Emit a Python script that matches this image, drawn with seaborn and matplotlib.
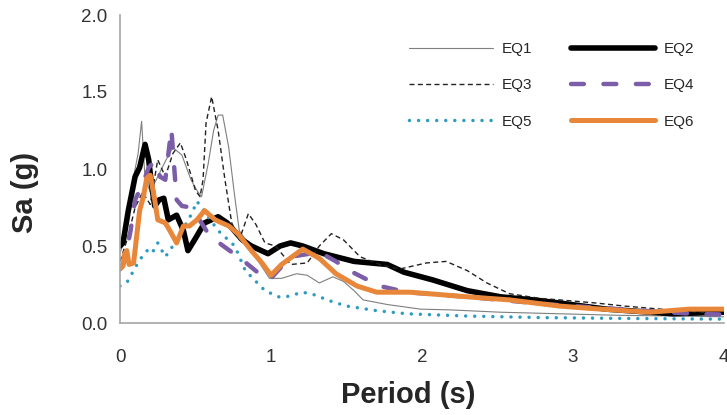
import numpy as np
import pandas as pd
import matplotlib
matplotlib.use("Agg")
import matplotlib.pyplot as plt
import seaborn as sns

# ==========================================================
# DADOS
# ==========================================================

t_eq1 = [0.0, 0.03, 0.06, 0.09, 0.12, 0.143, 0.165, 0.2, 0.25, 0.3, 0.35, 0.41, 0.47,
         0.51, 0.54, 0.585, 0.62, 0.65, 0.68, 0.72, 0.76, 0.79, 0.86, 0.93, 0.99, 1.07,
         1.17, 1.24, 1.32, 1.41, 1.48, 1.55, 1.61, 1.77, 1.99, 2.19, 2.52, 2.91, 3.3, 3.7, 4.0]
sa_eq1 = [0.45, 0.55, 0.75, 0.95, 1.1, 1.31, 0.95, 0.85, 0.95, 1.05, 1.14, 1.09, 0.93,
          0.86, 0.82, 1.04, 1.25, 1.35, 1.35, 1.14, 0.82, 0.6, 0.5, 0.38, 0.29, 0.29,
          0.32, 0.31, 0.26, 0.3, 0.27, 0.21, 0.15, 0.12, 0.09, 0.085, 0.07, 0.06, 0.05, 0.045, 0.04]

t_eq2 = [0.0, 0.02, 0.055, 0.1, 0.13, 0.166, 0.19, 0.21, 0.23, 0.26, 0.29, 0.32, 0.375,
         0.42, 0.45, 0.5, 0.56, 0.65, 0.71, 0.81, 0.87, 0.98, 1.06, 1.13, 1.21, 1.35,
         1.55, 1.77, 1.88, 2.07, 2.3, 2.52, 2.74, 2.91, 3.22, 3.66, 4.0]
sa_eq2 = [0.5, 0.52, 0.73, 0.95, 1.01, 1.16, 1.06, 0.89, 0.76, 0.8, 0.81, 0.67, 0.7,
          0.6, 0.47, 0.55, 0.65, 0.69, 0.65, 0.54, 0.5, 0.45, 0.5, 0.52, 0.5, 0.45,
          0.4, 0.38, 0.33, 0.28, 0.21, 0.17, 0.15, 0.13, 0.09, 0.06, 0.07]

t_eq3 = [0.0, 0.05, 0.1, 0.15, 0.2, 0.25, 0.3, 0.35, 0.4, 0.44, 0.5, 0.53, 0.55, 0.57,
         0.607, 0.65, 0.695, 0.74, 0.79, 0.85, 0.9, 0.96, 1.03, 1.13, 1.24, 1.32, 1.4,
         1.48, 1.59, 1.72, 1.85, 2.03, 2.16, 2.3, 2.43, 2.58, 2.78, 2.91, 3.15, 3.34, 3.7, 4.0]
sa_eq3 = [0.4, 0.55, 0.75, 0.85, 0.77, 1.06, 0.95, 1.1, 1.17, 1.06, 0.86, 0.82, 0.93, 1.3,
          1.47, 1.25, 0.93, 0.65, 0.54, 0.71, 0.64, 0.52, 0.5, 0.38, 0.39, 0.5, 0.58,
          0.54, 0.43, 0.38, 0.35, 0.39, 0.4, 0.34, 0.26, 0.19, 0.16, 0.15, 0.13, 0.11, 0.08, 0.06]

t_eq4 = [0.0, 0.03, 0.07, 0.1, 0.15, 0.19, 0.23, 0.265, 0.3, 0.34, 0.375, 0.41, 0.47,
         0.5, 0.585, 0.67, 0.81, 0.96, 0.99, 1.13, 1.32, 1.43, 1.52, 1.72, 1.9, 2.3,
         2.85, 3.3, 3.79, 4.0]
sa_eq4 = [0.35, 0.4, 0.6, 0.8, 0.9, 1.01, 1.05, 0.95, 0.93, 1.26, 0.8, 0.76, 0.75,
          0.71, 0.58, 0.51, 0.41, 0.29, 0.28, 0.43, 0.46, 0.4, 0.34, 0.24, 0.2, 0.17,
          0.12, 0.09, 0.06, 0.055]

t_eq5 = [0.0, 0.05, 0.09, 0.13, 0.18, 0.21, 0.25, 0.3, 0.33, 0.4, 0.475, 0.51, 0.65,
         0.76, 0.83, 0.89, 0.96, 1.05, 1.1, 1.21, 1.3, 1.37, 1.5, 1.7, 1.9, 2.3, 2.8, 3.3, 4.0]
sa_eq5 = [0.24, 0.27, 0.34, 0.41, 0.47, 0.45, 0.52, 0.43, 0.47, 0.58, 0.71, 0.79, 0.6,
          0.5, 0.34, 0.28, 0.21, 0.17, 0.17, 0.2, 0.18, 0.15, 0.11, 0.08, 0.06, 0.045,
          0.035, 0.03, 0.025]

t_eq6 = [0.0, 0.02, 0.03, 0.045, 0.06, 0.09, 0.13, 0.155, 0.177, 0.2, 0.23, 0.25, 0.3,
         0.33, 0.375, 0.42, 0.46, 0.51, 0.56, 0.63, 0.72, 0.78, 0.87, 0.94, 1.0, 1.07,
         1.21, 1.32, 1.43, 1.57, 1.7, 1.92, 2.3, 2.58, 2.91, 3.11, 3.51, 3.77, 4.0]
sa_eq6 = [0.35, 0.37, 0.45, 0.47, 0.38, 0.39, 0.73, 0.82, 0.94, 0.96, 0.8, 0.67, 0.65,
          0.6, 0.52, 0.63, 0.63, 0.67, 0.73, 0.67, 0.63, 0.58, 0.47, 0.39, 0.31, 0.38,
          0.48, 0.42, 0.32, 0.24, 0.2, 0.2, 0.17, 0.15, 0.11, 0.095, 0.07, 0.09, 0.09]

x_ticks = [0, 1, 2, 3, 4]
y_ticks = [0.0, 0.5, 1.0, 1.5, 2.0]

# ==========================================================
# ESTILOS
# ==========================================================

series = [
    ("EQ1", t_eq1, sa_eq1, dict(color="#7f7f7f", lw=0.8, linestyle="-")),
    ("EQ2", t_eq2, sa_eq2, dict(color="black", lw=4.0, linestyle="-", solid_joinstyle="round")),
    ("EQ3", t_eq3, sa_eq3, dict(color="#222222", lw=1.0, linestyle=(0, (3.6, 2.4)))),
    ("EQ4", t_eq4, sa_eq4, dict(color="#7b5ea7", lw=3.2, linestyle=(0, (2.9, 4.4)),
                                dash_capstyle="round")),
    ("EQ5", t_eq5, sa_eq5, dict(color="#2e9cc0", lw=2.5, linestyle=(0, (0.01, 2.6)),
                                dash_capstyle="round")),
    ("EQ6", t_eq6, sa_eq6, dict(color="#e8873a", lw=3.6, linestyle="-", solid_joinstyle="round")),
]

sns.set_style("white")
plt.rcParams["font.family"] = ["Liberation Sans", "DejaVu Sans"]

fig = plt.figure(figsize=(7.27, 4.15), dpi=100)
ax = fig.add_axes([120 / 727, 1 - 323 / 415, 604 / 727, 308 / 415])

lines = {}
for nome, t, sa, estilo in series:
    df = pd.DataFrame({"Period": t, "Sa": sa})
    sns.lineplot(data=df, x="Period", y="Sa", ax=ax, label=nome, legend=False, **estilo)
    lines[nome] = ax.get_lines()[-1]

ax.set_xlim(0, 4)
ax.set_ylim(0, 2.0)
ax.set_xticks(x_ticks)
ax.set_xticklabels([str(v) for v in x_ticks])
ax.set_yticks(y_ticks)
ax.set_yticklabels([f"{v:.1f}" for v in y_ticks])

sns.despine(ax=ax)
for lado in ["left", "bottom"]:
    ax.spines[lado].set_color("#a6a6a6")
    ax.spines[lado].set_linewidth(1.2)

ax.tick_params(axis="both", direction="out", length=5, width=1, color="#a6a6a6",
               labelsize=13.5, labelcolor="#333333", pad=4)
ax.tick_params(axis="x", pad=14)

# rotulos dos eixos (posicao como no Excel)
ax.set_xlabel("Period (s)", fontsize=21, fontweight="bold", va="center")
ax.xaxis.set_label_coords((408 - 120) / 604, (323 - 395) / 308)
ax.set_ylabel("Sa (g)", fontsize=21, fontweight="bold", va="center")
ax.yaxis.set_label_coords((25 - 120) / 604, (323 - 192) / 308)

ordem = ["EQ1", "EQ3", "EQ5", "EQ2", "EQ4", "EQ6"]
fig.legend(
    handles=[lines[n] for n in ordem],
    labels=ordem,
    loc="upper left",
    bbox_to_anchor=(409 / 727, 1 - 42 / 415),
    ncol=2,
    frameon=False,
    fontsize=11,
    handlelength=5.5,
    handletextpad=0.6,
    columnspacing=2.5,
    labelspacing=1.46,
    borderpad=0,
    borderaxespad=0,
)

fig.savefig("out.png", dpi=100)
